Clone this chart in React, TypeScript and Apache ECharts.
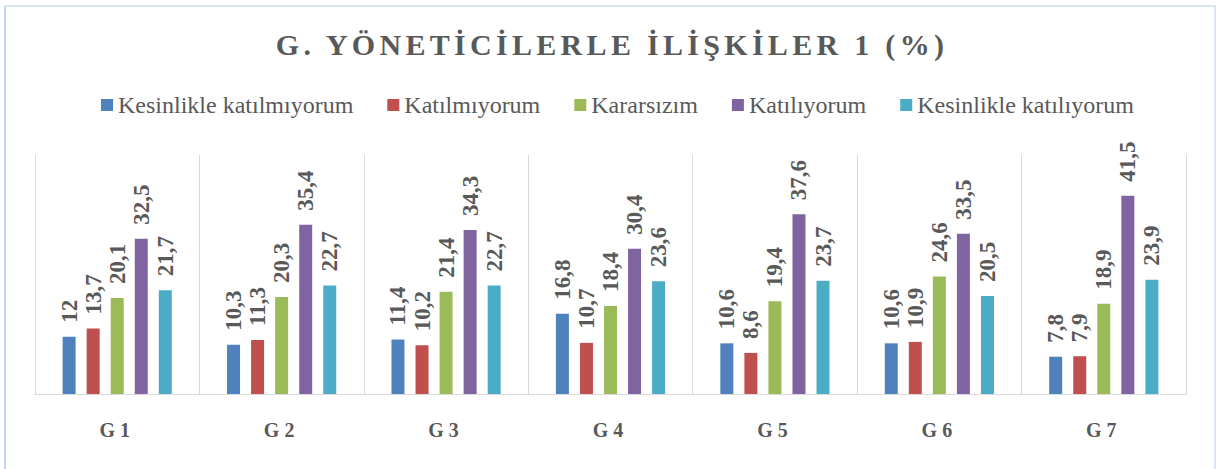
import React, { useEffect, useRef } from "react";
import * as echarts from "echarts";

const titleText = "G. YÖNETİCİLERLE İLİŞKİLER 1 (%)";
const categories = ["G1", "G2", "G3", "G4", "G5", "G6", "G7"];
const seriesNames = [
  "Kesinlikle katılmıyorum",
  "Katılmıyorum",
  "Kararsızım",
  "Katılıyorum",
  "Kesinlikle katılıyorum",
];
const kesinlikleKatilmiyorum = [12, 10.3, 11.4, 16.8, 10.6, 10.6, 7.8];
const katilmiyorum = [13.7, 11.3, 10.2, 10.7, 8.6, 10.9, 7.9];
const kararsizim = [20.1, 20.3, 21.4, 18.4, 19.4, 24.6, 18.9];
const katiliyorum = [32.5, 35.4, 34.3, 30.4, 37.6, 33.5, 41.5];
const kesinlikleKatiliyorum = [21.7, 22.7, 22.7, 23.6, 23.7, 20.5, 23.9];
const seriesValues = [
  kesinlikleKatilmiyorum,
  katilmiyorum,
  kararsizim,
  katiliyorum,
  kesinlikleKatiliyorum,
];
const colors = ["#4f81bd", "#c0504d", "#9bbb59", "#8064a2", "#4bacc6"];

const SERIF = "Liberation Serif";
const GRAY = "#595959";

export default function App() {
  const ref = useRef<HTMLDivElement>(null);

  useEffect(() => {
    if (!ref.current) return;
    const chart = echarts.init(ref.current, undefined, { renderer: "svg" });
    const option: any = {
      animation: false,
      backgroundColor: "#ffffff",
      textStyle: { fontFamily: SERIF },
      title: {
        text: titleText,
        left: "center",
        top: 29,
        padding: 0,
        textStyle: {
          fontFamily: SERIF,
          fontWeight: "bold",
          fontSize: 30,
          color: GRAY,
        },
      },
      legend: {
        left: 101,
        top: 93,
        padding: 0,
        itemWidth: 12,
        itemHeight: 12,
        itemGap: 34,
        icon: "rect",
        data: seriesNames,
        textStyle: {
          fontFamily: SERIF,
          fontSize: 24,
          color: GRAY,
          lineHeight: 24,
        },
      },
      graphic: [
        {
          type: "rect",
          shape: { x: 5, y: 6, width: 1210, height: 480 },
          style: { fill: "none", stroke: "#dbe5f1", lineWidth: 2 },
          silent: true,
          z: 100,
        },
        {
          type: "line",
          shape: { x1: 5, y1: 6, x2: 5, y2: 469 },
          style: { stroke: "#c6d6ee", lineWidth: 2 },
          silent: true,
          z: 101,
        },
      ],
      grid: { left: 35, right: 38, top: 155, bottom: 75, containLabel: false },
      xAxis: {
        type: "category",
        data: categories,
        axisLine: { show: true, lineStyle: { color: "#d9d9d9", width: 1 } },
        axisTick: { show: false },
        splitLine: { show: true, lineStyle: { color: "#d9d9d9", width: 1 } },
        axisLabel: {
          margin: 26,
          fontFamily: SERIF,
          fontWeight: "bold",
          fontSize: 20,
          color: GRAY,
        },
      },
      yAxis: {
        type: "value",
        min: 0,
        max: 50,
        show: false,
        splitLine: { show: false },
      },
      series: seriesNames.map((name, i) => ({
        name,
        type: "bar",
        data: seriesValues[i],
        barWidth: 13,
        barGap: "85%",
        itemStyle: { color: colors[i] },
        label: {
          show: true,
          position: "top",
          rotate: 90,
          align: "left",
          verticalAlign: "middle",
          distance: 14,
          fontFamily: SERIF,
          fontWeight: "bold",
          fontSize: 23,
          color: GRAY,
          formatter: (p: any) => String(p.value).replace(".", ","),
        },
      })),
    };
    chart.setOption(option);

    const applySpacing = () => {
      if (!ref.current) return;
      ref.current.querySelectorAll("text").forEach((t) => {
        const s = t.textContent || "";
        if (s === titleText) {
          t.setAttribute("letter-spacing", "4.3px");
        } else if (/^G\d$/.test(s)) {
          t.setAttribute("letter-spacing", "5px");
        }
      });
    };
    applySpacing();
    chart.on("finished", applySpacing);

    return () => {
      chart.dispose();
    };
  }, []);

  return (
    <div
      ref={ref}
      style={{ position: "fixed", left: 0, top: 0, width: 1224, height: 469 }}
    />
  );
}
